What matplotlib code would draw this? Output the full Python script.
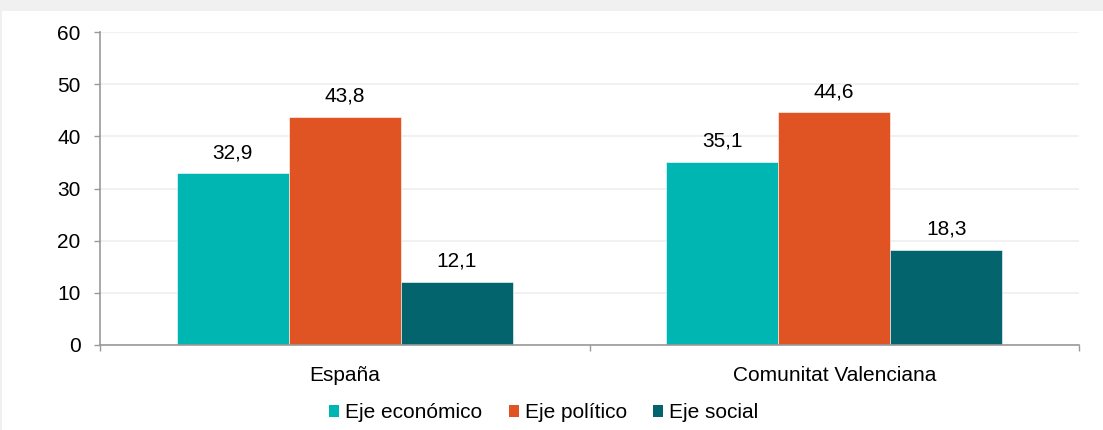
import numpy as np
import matplotlib.pyplot as plt
from matplotlib.patches import Patch, Rectangle

plt.rcParams['font.family'] = ['Liberation Sans', 'DejaVu Sans']

regions = ['España', 'Comunitat Valenciana']
series = ['Eje económico', 'Eje político', 'Eje social']
economico = [32.9, 35.1]
politico = [43.8, 44.6]
social = [12.1, 18.3]
colors = ['#00b6b2', '#e05423', '#03646e']

fig = plt.figure(figsize=(11.03, 4.30), dpi=100, facecolor='#f0f0f0')
fig.patches.append(Rectangle((2 / 1103, 0), 1, 1 - 11 / 430, transform=fig.transFigure,
                             facecolor='white', edgecolor='none', zorder=-10))
ax = fig.add_axes([100 / 1103, 1 - 345 / 430, (1079 - 100) / 1103, (345 - 32) / 430])
ax.set_facecolor('white')

x = np.arange(len(regions))
w = 0.229
for i, (vals, c) in enumerate(zip([economico, politico, social], colors)):
    bars = ax.bar(x + (i - 1) * w, vals, w, color=c, edgecolor='white', linewidth=0.4, zorder=3)
    for b, v in zip(bars, vals):
        ax.annotate(f'{v:.1f}'.replace('.', ','), (b.get_x() + b.get_width() / 2, v),
                    xytext=(0, 8), textcoords='offset points', ha='center', va='bottom',
                    fontsize=15, color='#000000')

ax.set_xlim(-0.5, 1.5)
ax.set_ylim(0, 60)
ax.set_yticks(range(0, 61, 10))
ax.set_xticks(x)
ax.set_xticklabels(regions)
ax.set_xticks([-0.5, 0.5, 1.5], minor=True)
ax.tick_params(axis='x', which='major', length=0, pad=15, labelsize=15)
ax.tick_params(axis='x', which='minor', length=4, width=1, color='#999999', direction='out')
ax.tick_params(axis='y', length=4, width=1, color='#999999', pad=10, labelsize=15)
ax.grid(axis='y', color='#efefef', linewidth=1.2, zorder=0)
for s in ['top', 'right']:
    ax.spines[s].set_visible(False)
for s in ['left', 'bottom']:
    ax.spines[s].set_color('#999999')
    ax.spines[s].set_linewidth(1.2)
    ax.spines[s].set_zorder(4)

handles = [Patch(facecolor=c, edgecolor='none') for c in colors]
fig.legend(handles, series, loc='center', bbox_to_anchor=(0.493, 1 - 413 / 430), ncol=3,
           frameon=False, fontsize=15, handlelength=0.48, handleheight=0.48,
           handletextpad=0.3, columnspacing=1.25)

fig.savefig('out.png', dpi=100, facecolor=fig.get_facecolor())
